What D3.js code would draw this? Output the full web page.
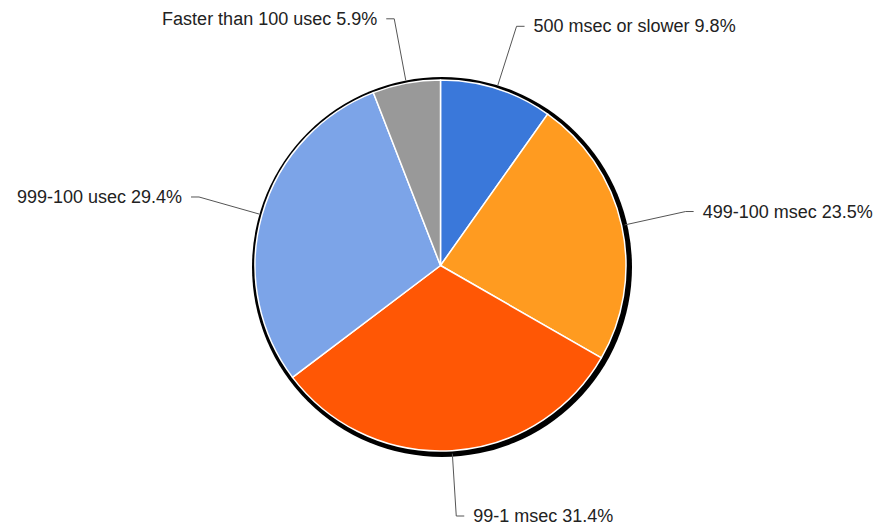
<!DOCTYPE html>
<html>
<head>
<meta charset="utf-8">
<script src="https://cdn.jsdelivr.net/npm/d3@7"></script>
<style>
  html, body { margin: 0; padding: 0; background: #fff; }
  svg { display: block; font-family: "Liberation Sans", Arial, sans-serif; }
</style>
</head>
<body>
<svg id="chart" width="873" height="531"></svg>
<script>
// slices, clockwise from 12 o'clock
const labels = ['500 msec or slower', '499-100 msec', '99-1 msec', '999-100 usec', 'Faster than 100 usec']
const values = [9.8, 23.5, 31.4, 29.4, 5.9]
const colors = ['#3a78da', '#ff9b20', '#ff5705', '#7ca4e8', '#999999']

const cx = 440.5
const cy = 265.5
const r = 185.5
const elbowR = 251   // where the leader line bends
const hookLen = 8
const textGap = 9

const svg = d3.select('#chart')

const pie = d3.pie().sort(null).value(function (d) { return d })
const arcs = pie(values)
const arc = d3.arc().innerRadius(0).outerRadius(r)

// black "shadow" disc behind the pie
svg.append('circle')
  .attr('cx', cx + 1.5)
  .attr('cy', cy + 1.5)
  .attr('r', r + 4.5)
  .attr('fill', '#000')

const g = svg.append('g').attr('transform', 'translate(' + cx + ',' + cy + ')')

g.selectAll('.slice').data(arcs).enter().append('path')
  .attr('class', 'slice')
  .attr('d', arc)
  .attr('fill', function (d, i) { return colors[i] })
  .attr('stroke', '#fff')
  .attr('stroke-width', 1.5)
  .attr('stroke-linejoin', 'round')

// leader lines and labels
arcs.forEach(function (d, i) {
  const a = (d.startAngle + d.endAngle) / 2
  const sx = Math.sin(a)
  const sy = -Math.cos(a)
  const right = sx >= 0
  const p0 = [(r + 3) * sx, (r + 3) * sy]
  const p1 = [elbowR * sx, elbowR * sy]
  const p2 = [p1[0] + (right ? hookLen : -hookLen), p1[1]]

  g.append('path')
    .attr('d', 'M' + p0 + 'L' + p1 + 'L' + p2)
    .attr('fill', 'none')
    .attr('stroke', '#555')
    .attr('stroke-width', 1)

  g.append('text')
    .attr('x', p2[0] + (right ? textGap : -textGap))
    .attr('y', p2[1] + 6)
    .attr('text-anchor', right ? 'start' : 'end')
    .attr('font-size', 18)
    .attr('fill', '#222')
    .text(labels[i] + ' ' + d3.format('.1f')(values[i]) + '%')
})
</script>
</body>
</html>
